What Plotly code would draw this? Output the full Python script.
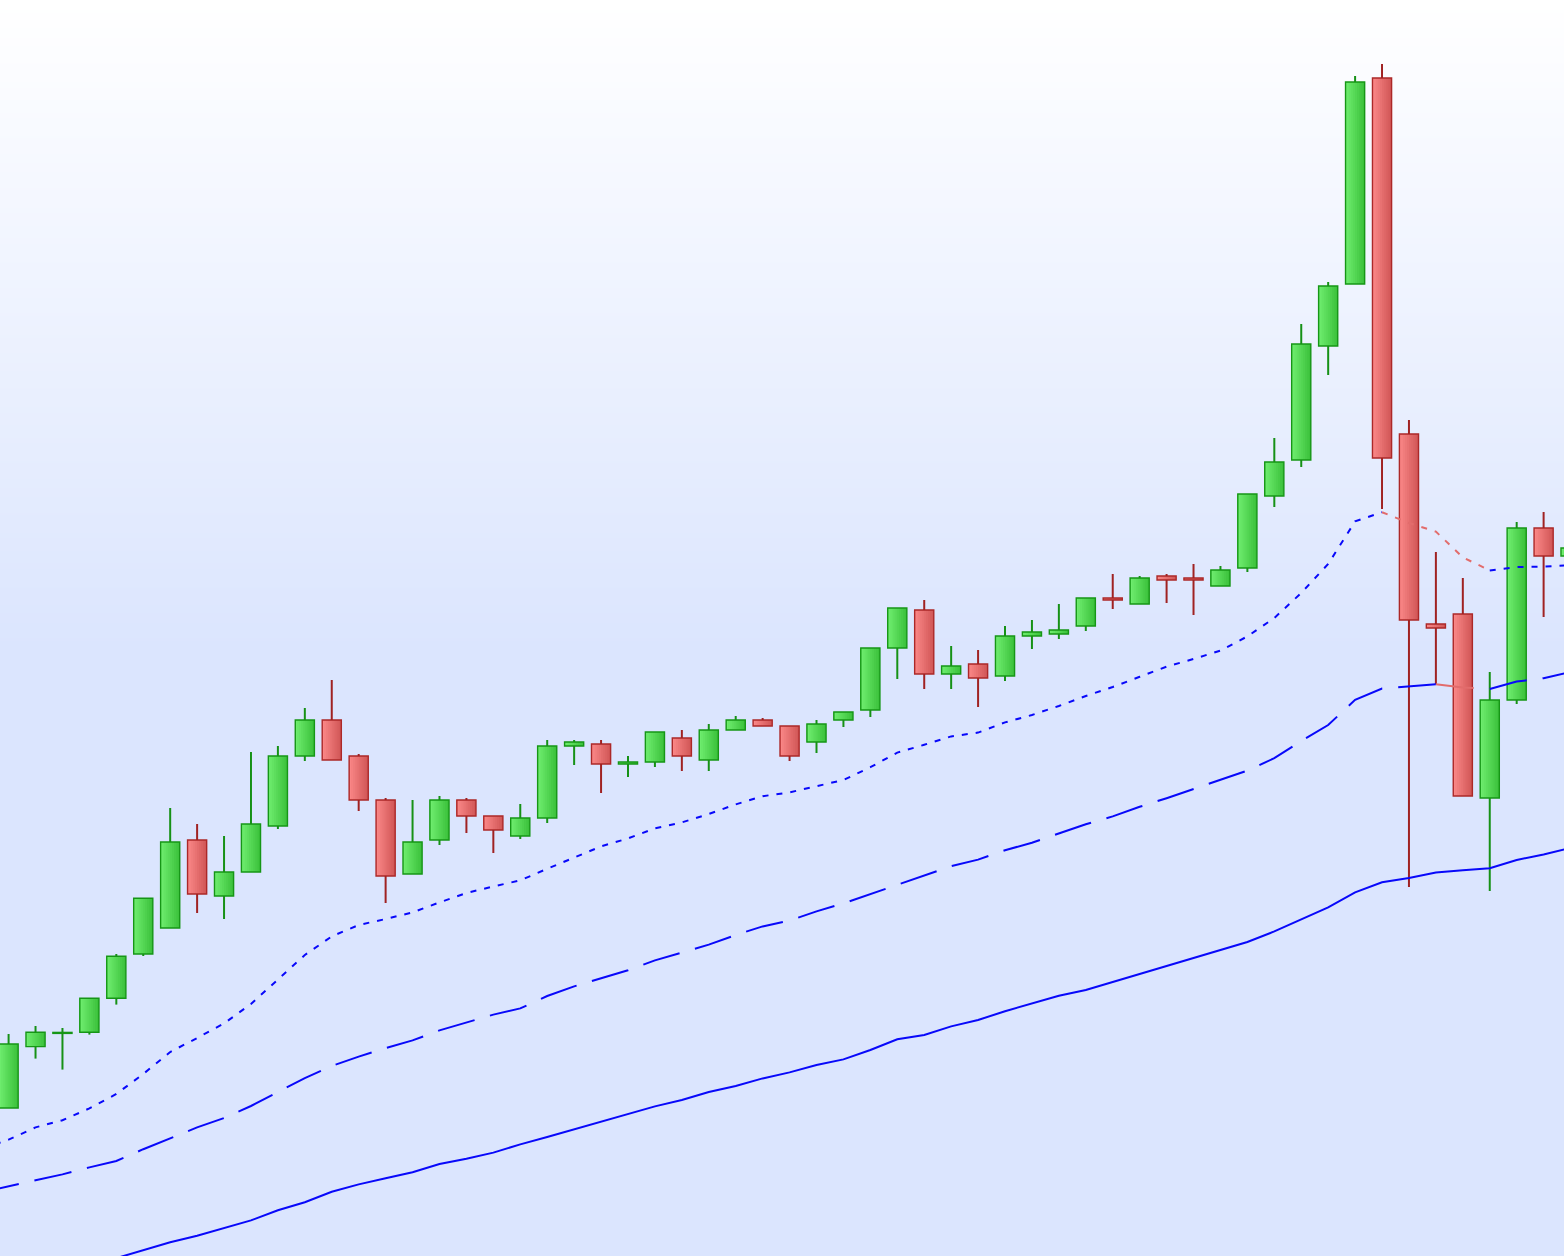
import plotly.graph_objects as go

# ---------------- data ----------------
idx = list(range(59))
opens = [27.40, 30.47, 31.13, 31.19, 32.89, 35.10, 36.40, 40.80, 38.00, 39.20,
         41.50, 45.00, 46.80, 45.00, 42.80, 39.10, 40.80, 42.80, 42.00, 41.00,
         41.90, 45.50, 45.60, 44.60, 44.70, 45.90, 44.80, 46.30, 46.80, 46.50,
         45.70, 46.80, 47.30, 50.40, 52.30, 49.10, 49.60, 49.00, 51.00, 51.10,
         51.50, 52.90, 52.60, 54.00, 53.90, 53.50, 54.40, 58.00, 59.80, 65.50,
         68.60, 78.90, 61.10, 51.60, 52.10, 42.90, 47.80, 56.40, 55.00]
highs = [31.10, 31.50, 31.40, 32.90, 35.10, 37.90, 42.40, 41.60, 41.00, 45.20,
         45.50, 47.40, 48.80, 45.10, 42.90, 42.80, 43.00, 42.90, 42.00, 42.60,
         45.80, 45.80, 45.80, 45.00, 46.20, 46.30, 46.60, 47.00, 46.90, 46.50,
         46.80, 47.20, 50.40, 52.40, 52.80, 50.50, 50.30, 51.50, 51.80, 52.60,
         52.90, 54.10, 54.00, 54.10, 54.60, 54.50, 58.10, 60.90, 66.60, 68.70,
         79.00, 79.60, 61.80, 55.20, 53.90, 49.20, 56.70, 57.20, 55.50]
lows = [27.40, 29.87, 29.32, 31.07, 32.57, 35.00, 36.40, 37.15, 36.85, 39.20,
        41.35, 44.75, 44.80, 42.25, 37.65, 39.10, 40.55, 41.15, 40.15, 40.85,
        41.65, 44.55, 43.15, 43.95, 44.45, 44.25, 44.25, 46.30, 46.50, 44.75,
        45.15, 46.45, 46.95, 48.85, 48.35, 48.35, 47.45, 48.75, 50.35, 50.85,
        51.25, 52.35, 52.60, 52.65, 52.05, 53.50, 54.20, 57.45, 59.45, 64.05,
        68.60, 57.35, 38.45, 48.60, 43.00, 38.25, 47.60, 51.95, 54.90]
closes = [30.60, 31.19, 31.18, 32.89, 34.99, 37.89, 40.70, 38.10, 39.20, 41.60,
          45.00, 46.80, 44.80, 42.80, 39.00, 40.70, 42.80, 42.00, 41.30, 41.90,
          45.50, 45.70, 44.60, 44.70, 46.20, 45.00, 46.30, 46.80, 46.50, 45.00,
          46.60, 47.20, 50.40, 52.40, 49.10, 49.50, 48.90, 51.00, 51.20, 51.30,
          52.90, 52.80, 53.90, 53.80, 53.80, 54.30, 58.10, 59.70, 65.60, 68.50,
          78.70, 59.90, 51.80, 51.40, 43.00, 47.80, 56.40, 55.00, 55.40]

# moving averages, one value per period from index -1 to 58
ma_idx = list(range(-1, 59))
ma_short = [25.35, 25.82, 26.43, 26.79, 27.38, 28.10, 29.10, 30.20, 30.90, 31.63,
            32.60, 33.85, 35.05, 35.98, 36.55, 36.85, 37.18, 37.68, 38.15, 38.48,
            38.78, 39.36, 39.94, 40.48, 40.88, 41.38, 41.68, 42.10, 42.58, 42.99,
            43.18, 43.48, 43.80, 44.44, 45.17, 45.56, 45.98, 46.17, 46.68, 47.05,
            47.50, 48.00, 48.45, 48.96, 49.47, 49.85, 50.27, 50.98, 51.90, 53.15,
            54.60, 56.73, 57.19, 56.65, 56.22, 54.93, 54.28, 54.45, 54.47, 54.55]
ma_mid = [23.19, 23.48, 23.80, 24.08, 24.43, 24.75, 25.34, 25.88, 26.43, 26.90,
          27.50, 28.20, 28.89, 29.50, 29.97, 30.39, 30.78, 31.28, 31.69, 32.07,
          32.38, 33.00, 33.48, 33.90, 34.29, 34.78, 35.18, 35.57, 36.05, 36.48,
          36.77, 37.23, 37.63, 38.10, 38.58, 39.02, 39.49, 39.82, 40.29, 40.66,
          41.13, 41.59, 41.98, 42.46, 42.89, 43.35, 43.80, 44.27, 44.89, 45.75,
          46.55, 47.81, 48.37, 48.48, 48.59, 48.43, 48.35, 48.72, 48.89, 49.20]
ma_long = [17.90, 18.30, 18.70, 19.10, 19.50, 19.90, 20.30, 20.69, 21.01, 21.38,
           21.78, 22.29, 22.69, 23.21, 23.58, 23.89, 24.19, 24.60, 24.86, 25.17,
           25.58, 25.95, 26.33, 26.70, 27.08, 27.48, 27.80, 28.20, 28.50, 28.88,
           29.18, 29.55, 29.83, 30.30, 30.84, 31.05, 31.48, 31.80, 32.24, 32.61,
           33.01, 33.30, 33.70, 34.08, 34.48, 34.88, 35.28, 35.70, 36.23, 36.83,
           37.43, 38.18, 38.69, 38.90, 39.18, 39.29, 39.39, 39.80, 40.08, 40.40]

# ---------------- styling ----------------
GREEN_LIGHT, GREEN_DARK = (110, 236, 110), (60, 194, 60)
RED_LIGHT, RED_DARK = (249, 134, 134), (210, 88, 88)
GREEN_EDGE, RED_EDGE = "rgb(22,150,22)", "rgb(172,40,40)"
GREEN_WICK, RED_WICK = "rgb(22,145,22)", "rgb(160,34,34)"
MA_UP, MA_DOWN = "rgb(8,8,250)", "rgb(226,108,108)"
BG_BOTTOM = "rgb(219,229,254)"

Y0, Y1 = 20.0, 82.8
X0, X1 = -0.3193, 57.757
BODY_W = 0.71
N_STEPS = 10

up = [c >= o for o, c in zip(opens, closes)]


def mix(a, b, t):
    return "rgb(%d,%d,%d)" % tuple(round(a[j] + (b[j] - a[j]) * t) for j in range(3))


fig = go.Figure()

# background gradient
fig.add_trace(go.Heatmap(
    x=[-3, 61], y=[0, 50.3, Y1, 100],
    z=[[0, 0], [0, 0], [1, 1], [1, 1]],
    colorscale=[[0, BG_BOTTOM], [1, "rgb(255,255,255)"]],
    zsmooth="best", showscale=False, hoverinfo="skip"))

# wicks (drawn outside the body only)
for flag, col in ((True, GREEN_WICK), (False, RED_WICK)):
    wx, wy = [], []
    for i in idx:
        if up[i] == flag:
            top = max(opens[i], closes[i])
            bot = min(opens[i], closes[i])
            if highs[i] > top:
                wx += [i, i, None]
                wy += [top, highs[i], None]
            if lows[i] < bot:
                wx += [i, i, None]
                wy += [lows[i], bot, None]
    fig.add_trace(go.Scatter(x=wx, y=wy, mode="lines",
                             line=dict(color=col, width=2),
                             hoverinfo="skip", showlegend=False))

# bodies (horizontal gradient built from overlaid bars)
base = [min(o, c) for o, c in zip(opens, closes)]
height = [abs(c - o) for o, c in zip(opens, closes)]
for k in range(N_STEPS):
    t = k / (N_STEPS - 1)
    w = BODY_W * (N_STEPS - k) / N_STEPS
    cols = [mix(GREEN_DARK, GREEN_LIGHT, t) if u else mix(RED_DARK, RED_LIGHT, t) for u in up]
    fig.add_trace(go.Bar(x=idx, y=height, base=base, width=w, offset=-BODY_W / 2,
                         marker=dict(color=cols, opacity=1, line=dict(width=0)),
                         hoverinfo="skip", showlegend=False))
fig.add_trace(go.Bar(x=idx, y=height, base=base, width=BODY_W, offset=-BODY_W / 2,
                     marker=dict(color="rgba(0,0,0,0)",
                                 line=dict(width=1.4,
                                           color=[GREEN_EDGE if u else RED_EDGE for u in up])),
                     hoverinfo="skip", showlegend=False))


# moving averages: blue when rising, red when falling
def add_ma(values, dash):
    for falling, col in ((False, MA_UP), (True, MA_DOWN)):
        xs, ys = [], []
        prev = None
        for j in range(len(values) - 1):
            seg_fall = values[j + 1] < values[j]
            if seg_fall == falling:
                if prev != j:
                    if xs:
                        xs.append(None)
                        ys.append(None)
                    xs.append(ma_idx[j])
                    ys.append(values[j])
                xs.append(ma_idx[j + 1])
                ys.append(values[j + 1])
                prev = j + 1
        if xs:
            fig.add_trace(go.Scatter(x=xs, y=ys, mode="lines",
                                     line=dict(color=col, width=2, dash=dash),
                                     hoverinfo="skip", showlegend=False))


add_ma(ma_long, "solid")
add_ma(ma_mid, "38px,16px")
add_ma(ma_short, "6px,8px")

fig.update_layout(
    width=1564, height=1256,
    margin=dict(l=0, r=0, t=0, b=0),
    paper_bgcolor=BG_BOTTOM, plot_bgcolor=BG_BOTTOM,
    barmode="overlay", showlegend=False, hovermode=False,
    xaxis=dict(range=[X0, X1], visible=False, showgrid=False, zeroline=False),
    yaxis=dict(range=[Y0, Y1], visible=False, showgrid=False, zeroline=False),
)

fig.write_html(
    "out.html",
    config={"displayModeBar": False, "staticPlot": True},
    post_script="document.body.style.margin='0';document.body.style.padding='0';"
                "document.body.style.overflow='hidden';",
)
